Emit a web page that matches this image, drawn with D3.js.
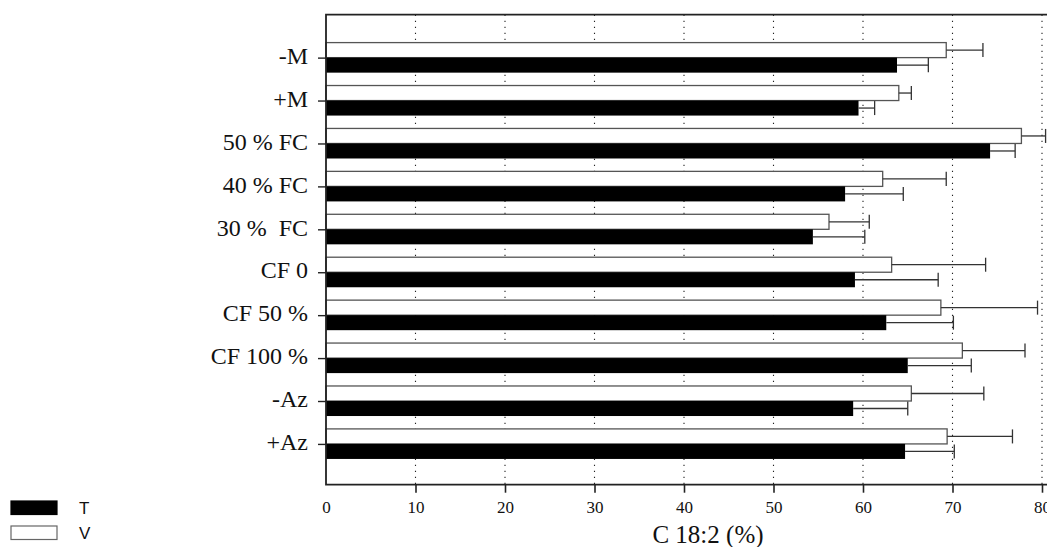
<!DOCTYPE html>
<html>
<head>
<meta charset="utf-8">
<script src="https://cdn.jsdelivr.net/npm/d3@7"></script>
<style>
  html, body { margin: 0; padding: 0; background: #fff; }
  svg { display: block; }
</style>
</head>
<body>
<svg id="chart" width="1047" height="547"></svg>
<script>
// ---- data ----
const categories = ["-M", "+M", "50 % FC", "40 % FC", "30 %  FC", "CF 0", "CF 50 %", "CF 100 %", "-Az", "+Az"];
const seriesNames = ["T", "V"];
const valuesT = [63.8, 59.5, 74.2, 58.0, 54.4, 59.1, 62.6, 65.0, 58.9, 64.7];
const errorsT = [3.5, 1.8, 2.8, 6.5, 5.8, 9.3, 7.5, 7.1, 6.1, 5.5];
const valuesV = [69.3, 64.0, 77.7, 62.2, 56.2, 63.2, 68.7, 71.1, 65.4, 69.4];
const errorsV = [4.1, 1.4, 2.7, 7.1, 4.5, 10.5, 10.8, 7.0, 8.1, 7.3];
const xTicks = [0, 10, 20, 30, 40, 50, 60, 70, 80];
const xTitle = "C 18:2 (%)";

const svg = d3.select("#chart");
const serif = "'Liberation Serif', 'Times New Roman', serif";
const sans = "'Liberation Sans', Arial, sans-serif";

const x = d3.scaleLinear().domain([0, 80]).range([326, 1042]);
// category index scale: first category at 1, last at 10
const y = d3.scaleLinear().domain([0, 10.95]).range([14.7, 484.7]);
const barH = y(0.35) - y(0);

const xMin = x(0), xMax = x(81), yTop = y(0), yBot = y(10.95);

// gridlines
svg.append("g").selectAll("line").data(xTicks.filter(d => d > 0)).join("line")
  .attr("x1", d => x(d)).attr("x2", d => x(d))
  .attr("y1", yTop).attr("y2", yBot)
  .attr("stroke", "#222").attr("stroke-width", 1.1)
  .attr("stroke-dasharray", "1.3,4.7");

const rows = categories.map((c, i) => ({
  c, i: i + 1, t: valuesT[i], te: errorsT[i], v: valuesV[i], ve: errorsV[i]
}));

// V bars (white, upper)
svg.append("g").selectAll("rect").data(rows).join("rect")
  .attr("x", x(0)).attr("y", d => y(d.i) - barH)
  .attr("width", d => x(d.v) - x(0)).attr("height", barH)
  .attr("fill", "#fff").attr("stroke", "#555").attr("stroke-width", 1.3);

// T bars (black, lower)
svg.append("g").selectAll("rect").data(rows).join("rect")
  .attr("x", x(0)).attr("y", d => y(d.i))
  .attr("width", d => x(d.t) - x(0)).attr("height", barH)
  .attr("fill", "#000");

// error bars
function errBars(key, ekey, offset) {
  const g = svg.append("g").attr("stroke", "#333").attr("stroke-width", 1.3).attr("fill", "none");
  g.selectAll("line.h").data(rows).join("line").attr("class", "h")
    .attr("x1", d => x(d[key])).attr("x2", d => x(d[key] + d[ekey]))
    .attr("y1", d => y(d.i) + offset * barH).attr("y2", d => y(d.i) + offset * barH);
  g.selectAll("line.c").data(rows).join("line").attr("class", "c")
    .attr("x1", d => x(d[key] + d[ekey])).attr("x2", d => x(d[key] + d[ekey]))
    .attr("y1", d => y(d.i) + offset * barH - barH / 2 + 0.5)
    .attr("y2", d => y(d.i) + offset * barH + barH / 2 - 0.5);
}
errBars("v", "ve", -0.5);
errBars("t", "te", 0.5);

// frame
svg.append("path")
  .attr("d", `M${xMax},${yTop}H${xMin}V${yBot}H${xMax}`)
  .attr("fill", "none").attr("stroke", "#222").attr("stroke-width", 1.8);

// x axis
const xAxis = d3.axisBottom(x).tickValues(xTicks).tickSize(8).tickSizeOuter(0).tickPadding(8);
const gx = svg.append("g").attr("transform", `translate(0,${yBot})`).call(xAxis);
gx.select(".domain").remove();
gx.selectAll(".tick line").attr("stroke", "#222").attr("stroke-width", 1.6)
  .attr("opacity", d => d === 0 ? 0 : 1);
gx.selectAll(".tick text").attr("font-family", serif).attr("font-size", 17).attr("fill", "#111")
  .attr("dy", "0.71em");

// y axis
const yAxis = d3.axisLeft(y).tickValues(rows.map(d => d.i))
  .tickFormat(i => categories[i - 1]).tickSize(8).tickSizeOuter(0).tickPadding(10);
const gy = svg.append("g").attr("transform", `translate(${xMin},0)`).call(yAxis);
gy.select(".domain").remove();
gy.selectAll(".tick line").attr("stroke", "#222").attr("stroke-width", 1.4);
gy.selectAll(".tick text").attr("font-family", serif).attr("font-size", 24).attr("fill", "#111")
  .attr("dy", "0.24em").style("white-space", "pre").attr("xml:space", "preserve");

// x title
svg.append("text").attr("x", 708).attr("y", 543).attr("text-anchor", "middle")
  .attr("font-family", serif).attr("font-size", 25).attr("fill", "#111").text(xTitle);

// legend
const leg = svg.append("g");
const legendFill = { T: "#000", V: "#fff" };
seriesNames.forEach((s, k) => {
  const ly = 501 + k * 25;
  leg.append("rect").attr("x", 11).attr("y", ly).attr("width", 46).attr("height", 13.5)
    .attr("fill", legendFill[s]).attr("stroke", s === "V" ? "#666" : "#000").attr("stroke-width", 1.2);
  leg.append("text").attr("x", 79).attr("y", ly + 13).attr("font-family", sans)
    .attr("font-size", 17).attr("fill", "#111").text(s);
});
</script>
</body>
</html>
